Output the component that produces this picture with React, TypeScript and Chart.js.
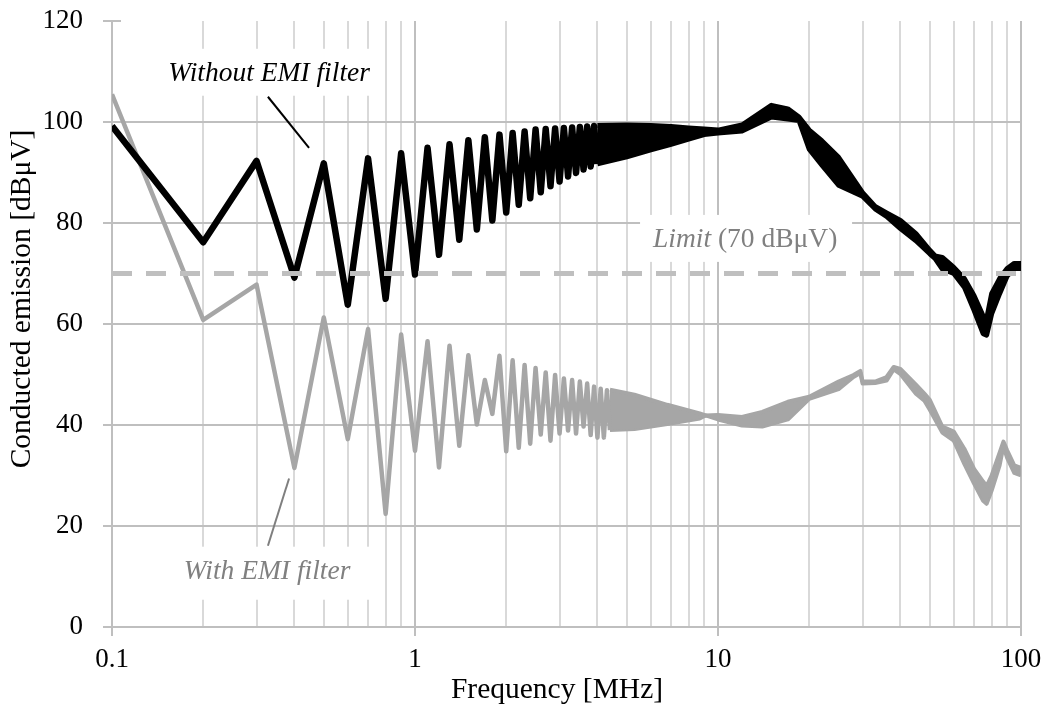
import React, { useEffect, useRef } from 'react';
import { Chart, registerables } from 'chart.js';

Chart.register(...registerables);

const FONT = '"Liberation Serif", "Times New Roman", serif';

// ---------- data ----------
const harmonicStepMHz = 0.1;
const limitDb = 70;

// Without EMI filter: harmonics 0.1 ... 4.0 MHz
const blackZigzagDb = [
  99.2, 76.2, 92.3, 69.2, 91.8, 63.8, 92.8, 65.0, 93.8, 69.8,
  94.9, 73.7, 95.6, 76.7, 96.4, 78.7, 97.0, 80.5, 97.5, 82.1,
  97.8, 83.6, 98.1, 84.9, 98.5, 86.1, 98.6, 87.3, 98.7, 88.2,
  98.8, 89.2, 98.9, 89.9, 99.0, 90.6, 99.1, 91.2, 99.2, 91.7,
];
// Without EMI filter: dense band above 4 MHz (upper / lower envelope)
const blackBandMHz = [4, 5, 6, 7, 8, 9, 10, 12, 15, 17, 18.5, 20, 22, 25, 30, 33, 36, 40, 45, 50, 52, 55, 60, 65, 70, 75, 77, 80, 85, 90, 95, 100];
const blackUpperDb = [99.3, 99.4, 99.3, 99.1, 98.8, 98.6, 98.4, 99.4, 103.3, 102.6, 101.0, 98.4, 96.3, 93.0, 86.0, 83.3, 82.0, 80.5, 77.9, 74.6, 73.5, 73.2, 71.2, 69.0, 65.6, 61.6, 61.0, 66.0, 69.0, 71.0, 72.0, 72.0];
const blackLowerDb = [91.7, 93.1, 94.5, 95.6, 96.6, 97.5, 97.8, 98.2, 101.0, 100.6, 100.3, 94.6, 91.5, 87.5, 85.3, 82.8, 81.3, 78.9, 76.5, 73.9, 73.0, 70.9, 70.0, 67.3, 62.7, 58.1, 57.8, 62.0, 66.0, 69.5, 71.0, 71.0];

// With EMI filter: harmonics 0.1 ... 4.4 MHz
const grayZigzagDb = [
  105.5, 60.8, 67.8, 31.5, 61.3, 37.2, 59.0, 22.4, 57.9, 34.9,
  56.6, 31.6, 55.7, 35.9, 53.8, 40.1, 48.9, 42.2, 53.7, 34.8,
  52.8, 35.5, 51.9, 36.3, 51.3, 38.1, 50.4, 36.9, 49.9, 38.3,
  49.2, 38.9, 48.9, 38.3, 48.6, 39.7, 48.2, 38.0, 47.6, 37.5,
  47.2, 37.5, 46.9, 39.0,
];
// With EMI filter: dense band above 4.4 MHz
const grayBandMHz = [4.4, 5.3, 6.8, 8.7, 9.1, 10, 12, 14, 17, 20, 25, 28, 29.5, 30, 33, 36, 38, 40, 45, 48, 50, 55, 60, 65, 70, 75, 77, 80, 85, 87.5, 90, 95, 100];
const grayUpperDb = [47.0, 46.0, 44.0, 42.3, 41.9, 42.0, 41.6, 42.6, 44.6, 45.6, 48.6, 49.9, 50.7, 48.6, 48.6, 49.5, 51.5, 51.1, 48.0, 46.2, 45.0, 39.7, 38.7, 35.3, 31.3, 28.8, 27.9, 30.0, 34.5, 36.7, 35.0, 32.0, 31.5];
const grayLowerDb = [39.0, 39.2, 40.2, 41.3, 41.9, 41.1, 39.9, 39.7, 41.1, 45.2, 47.1, 49.5, 50.3, 48.2, 48.3, 48.8, 51.0, 50.1, 46.2, 44.8, 43.0, 38.5, 36.9, 32.3, 28.4, 25.0, 24.4, 27.0, 32.0, 35.8, 33.5, 30.5, 30.0];

const xDecades = [0.1, 1, 10, 100];
const xTickLabels = ['0.1', '1', '10', '100'];
const yMin = 0;
const yMax = 120;
const yStep = 20;

const xTitle = 'Frequency [MHz]';
const yTitle = 'Conducted emission [dBμV]';
const labelWithout = 'Without EMI filter';
const labelWith = 'With EMI filter';
const labelLimitItalic = 'Limit';
const labelLimitRest = ' (70 dBμV)';

// ---------- helpers ----------
const harmonicPoints = (vals: number[]) =>
  vals.map((y, i) => ({ x: Number(((i + 1) * harmonicStepMHz).toFixed(1)), y }));
const bandPoints = (xs: number[], ys: number[]) => xs.map((x, i) => ({ x, y: ys[i] }));

const BLACK = '#000000';
const GRAY = '#a6a6a6';
const TEXT_GRAY = '#808080';
const GRID_MAJOR = '#bfbfbf';
const GRID_MINOR = '#d9d9d9';

const isDecade = (v: number) => xDecades.some((d) => Math.abs(v - d) < 1e-9);

const decorPlugin = {
  id: 'decor',
  beforeDatasetsDraw(chart: any) {
    const { ctx, scales } = chart;
    const xs = scales.x;
    const ys = scales.y;
    const box = (f1: number, f2: number, v1: number, v2: number) => {
      const x1 = xs.getPixelForValue(f1);
      const x2 = xs.getPixelForValue(f2);
      const y1 = ys.getPixelForValue(v1);
      const y2 = ys.getPixelForValue(v2);
      ctx.fillStyle = '#ffffff';
      ctx.fillRect(Math.min(x1, x2), Math.min(y1, y2), Math.abs(x2 - x1), Math.abs(y2 - y1));
    };
    ctx.save();
    box(0.144, 0.755, 114.5, 105.2);
    box(0.158, 0.721, 15.9, 5.4);
    box(5.53, 27.7, 81.6, 72.3);
    ctx.restore();
  },
  afterDatasetsDraw(chart: any) {
    const { ctx, scales, chartArea } = chart;
    const xs = scales.x;
    const ys = scales.y;
    const px = (f: number) => xs.getPixelForValue(f);
    const py = (v: number) => ys.getPixelForValue(v);
    ctx.save();
    // annotation texts
    ctx.textBaseline = 'middle';
    ctx.textAlign = 'center';
    ctx.font = `italic 27.5px ${FONT}`;
    ctx.fillStyle = BLACK;
    ctx.fillText(labelWithout, px(0.33), py(109.6));
    ctx.fillStyle = TEXT_GRAY;
    ctx.fillText(labelWith, px(0.325), py(11.0));
    ctx.textAlign = 'left';
    const lx = px(6.1);
    const ly = py(76.7);
    ctx.fillText(labelLimitItalic, lx, ly);
    const w = ctx.measureText(labelLimitItalic).width;
    ctx.font = `27.5px ${FONT}`;
    ctx.fillText(labelLimitRest, lx + w, ly);
    // leader lines
    ctx.lineWidth = 2;
    ctx.strokeStyle = BLACK;
    ctx.beginPath();
    ctx.moveTo(px(0.327), py(105));
    ctx.lineTo(px(0.447), py(94.9));
    ctx.stroke();
    ctx.strokeStyle = '#7f7f7f';
    ctx.beginPath();
    ctx.moveTo(px(0.384), py(29.4));
    ctx.lineTo(px(0.327), py(16.1));
    ctx.stroke();
    // inner half of the top y tick
    ctx.strokeStyle = GRID_MAJOR;
    ctx.lineWidth = 2;
    ctx.beginPath();
    ctx.moveTo(chartArea.left, py(yMax));
    ctx.lineTo(chartArea.left + 9, py(yMax));
    ctx.stroke();
    ctx.restore();
  },
  afterDraw(chart: any) {
    const { ctx } = chart;
    ctx.save();
    ctx.fillStyle = BLACK;
    ctx.font = `29.5px ${FONT}`;
    ctx.textAlign = 'center';
    ctx.textBaseline = 'middle';
    ctx.fillText(xTitle, 557, 690);
    ctx.translate(22, 299);
    ctx.rotate(-Math.PI / 2);
    ctx.fillText(yTitle, 0, 0);
    ctx.restore();
  },
};

export default function App() {
  const canvasRef = useRef<HTMLCanvasElement | null>(null);

  useEffect(() => {
    document.body.style.margin = '0';
    const canvas = canvasRef.current;
    if (!canvas) return;

    const xTickValues: number[] = [];
    for (let d = 0; d < xDecades.length - 1; d++) {
      for (let m = 1; m <= 9; m++) xTickValues.push(Number((xDecades[d] * m).toPrecision(3)));
    }
    xTickValues.push(xDecades[xDecades.length - 1]);

    const chart = new Chart(canvas, {
      type: 'line',
      data: {
        datasets: [
          {
            label: 'Limit',
            data: [{ x: 0.1, y: limitDb }, { x: 100, y: limitDb }],
            borderColor: GRID_MAJOR,
            borderWidth: 5,
            borderDash: [20, 14],
            pointRadius: 0,
            order: 0,
          },
          {
            label: 'Without',
            data: harmonicPoints(blackZigzagDb),
            borderColor: BLACK,
            borderWidth: 6.5,
            borderJoinStyle: 'round',
            pointRadius: 0,
            order: 1,
          },
          {
            label: 'Without upper',
            data: bandPoints(blackBandMHz, blackUpperDb),
            borderColor: BLACK,
            backgroundColor: BLACK,
            borderWidth: 5,
            borderJoinStyle: 'round',
            fill: '+1',
            pointRadius: 0,
            order: 1,
          },
          {
            label: 'Without lower',
            data: bandPoints(blackBandMHz, blackLowerDb),
            borderColor: BLACK,
            borderWidth: 5,
            borderJoinStyle: 'round',
            pointRadius: 0,
            order: 1,
          },
          {
            label: 'With',
            data: harmonicPoints(grayZigzagDb),
            borderColor: GRAY,
            borderWidth: 4.5,
            borderJoinStyle: 'round',
            pointRadius: 0,
            order: 2,
          },
          {
            label: 'With upper',
            data: bandPoints(grayBandMHz, grayUpperDb),
            borderColor: GRAY,
            backgroundColor: GRAY,
            borderWidth: 4,
            borderJoinStyle: 'round',
            fill: '+1',
            pointRadius: 0,
            order: 2,
          },
          {
            label: 'With lower',
            data: bandPoints(grayBandMHz, grayLowerDb),
            borderColor: GRAY,
            borderWidth: 4,
            borderJoinStyle: 'round',
            pointRadius: 0,
            order: 2,
          },
        ],
      },
      options: {
        responsive: false,
        animation: false,
        events: [],
        layout: { padding: { top: 21, right: 25, left: 0, bottom: 0 } },
        plugins: {
          legend: { display: false },
          tooltip: { enabled: false },
          title: { display: false },
        },
        elements: { line: { tension: 0 } },
        scales: {
          x: {
            type: 'logarithmic',
            min: 0.1,
            max: 100,
            afterFit: (scale: any) => {
              scale.height = 78;
              scale.paddingLeft = 0;
              scale.paddingRight = 0;
            },
            afterBuildTicks: (scale: any) => {
              scale.ticks = xTickValues.map((v) => ({ value: v }));
            },
            ticks: {
              autoSkip: false,
              maxRotation: 0,
              minRotation: 0,
              padding: 8,
              color: BLACK,
              font: { family: FONT, size: 27 },
              callback: (value: any) => {
                const v = Number(value);
                const i = xDecades.findIndex((d) => Math.abs(v - d) < 1e-9);
                return i >= 0 ? xTickLabels[i] : '';
              },
            },
            grid: {
              color: (c: any) => (c.tick && isDecade(c.tick.value) ? GRID_MAJOR : GRID_MINOR),
              tickColor: (c: any) => (c.tick && isDecade(c.tick.value) ? GRID_MAJOR : 'rgba(0,0,0,0)'),
              lineWidth: 2,
              tickLength: 9,
              drawTicks: true,
            },
            border: { color: GRID_MAJOR, width: 2 },
          },
          y: {
            type: 'linear',
            min: yMin,
            max: yMax,
            afterFit: (scale: any) => {
              scale.width = 112;
              scale.paddingTop = 0;
              scale.paddingBottom = 0;
            },
            ticks: {
              stepSize: yStep,
              padding: 20,
              color: BLACK,
              font: { family: FONT, size: 27 },
            },
            grid: {
              color: (c: any) => (c.tick && c.tick.value === yMax ? 'rgba(0,0,0,0)' : GRID_MAJOR),
              tickColor: GRID_MAJOR,
              lineWidth: 2,
              tickLength: 9,
            },
            border: { color: GRID_MAJOR, width: 2 },
          },
        },
      },
      plugins: [decorPlugin],
    } as any);

    return () => {
      chart.destroy();
    };
  }, []);

  return (
    <div style={{ width: 1046, height: 705 }}>
      <canvas ref={canvasRef} width={1046} height={705} style={{ display: 'block', width: 1046, height: 705 }} />
    </div>
  );
}
